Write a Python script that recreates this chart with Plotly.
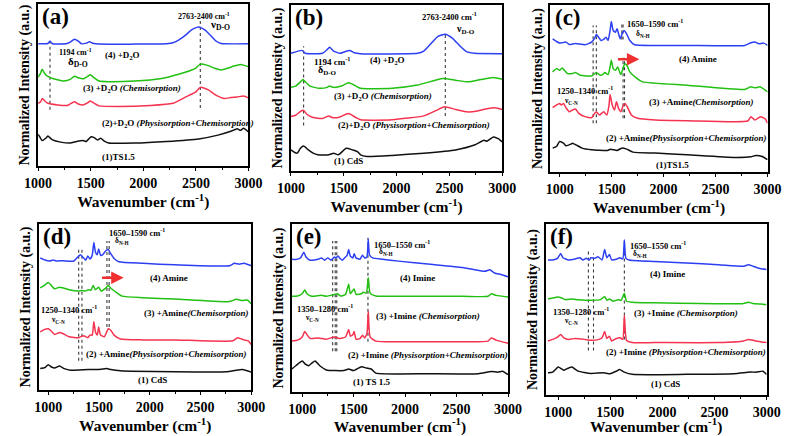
import plotly.graph_objects as go

W, H = 798, 436
FONT = "Liberation Serif"
BLUE, GREEN, RED, BLACK = "#2d3ff2", "#22c012", "#f5334f", "#111111"

# ---------------- Panel (a) : TS1.5 + D2O ----------------
a_xrange = [1000, 3000]
a_yrange = [0, 509]
a4_wn = [1000, 1092, 1113, 1137, 1275, 1305, 1345, 1382, 1412, 1458, 1488, 1519, 1580, 1916, 2221, 2282, 2343, 2404, 2465, 2527, 2588, 2649, 2694, 2740, 3000]
a4_int = [384, 385, 392, 384, 385, 389, 398, 392, 384, 386, 390, 386, 383, 383, 384, 387, 397, 412, 429, 437, 427, 407, 392, 385, 384]
a3_wn = [1000, 1024, 1037, 1055, 1076, 1122, 1183, 1244, 1305, 1345, 1382, 1427, 1473, 1495, 1534, 1580, 1672, 1916, 2160, 2343, 2496, 2542, 2603, 2679, 2740, 2801, 2862, 2923, 2954, 3000]
a3_int = [279, 292, 304, 295, 285, 277, 271, 267, 272, 282, 277, 274, 282, 287, 277, 267, 265, 267, 274, 289, 307, 320, 317, 307, 302, 307, 314, 319, 317, 312]
a2_wn = [1000, 1024, 1040, 1061, 1092, 1183, 1275, 1305, 1345, 1382, 1427, 1473, 1495, 1534, 1580, 1763, 2069, 2282, 2404, 2496, 2542, 2618, 2694, 2771, 2832, 2893, 2954, 3000]
a2_int = [197, 202, 212, 205, 197, 192, 190, 195, 202, 195, 192, 199, 204, 197, 189, 187, 190, 197, 217, 232, 247, 239, 222, 212, 215, 217, 220, 214]
a1_wn = [1000, 1015, 1037, 1076, 1092, 1137, 1214, 1305, 1366, 1427, 1458, 1504, 1534, 1565, 1595, 1626, 1672, 1916, 2221, 2527, 2710, 2832, 2893, 2923, 2954, 3000]
a1_int = [99, 92, 80, 88, 94, 82, 75, 72, 77, 80, 77, 92, 89, 82, 87, 79, 72, 72, 77, 85, 97, 109, 117, 112, 119, 107]
a_dot_wn = [1113, 2542]
a_dot_lo = [177, 182]
a_dot_hi = [402, 457]

# ---------------- Panel (b) : CdS + D2O ----------------
b_xrange = [1000, 3000]
b_yrange = [0, 512]
b4_wn = [1000, 1105, 1135, 1299, 1344, 1365, 1404, 1464, 1509, 1554, 1599, 1659, 2198, 2257, 2317, 2392, 2461, 2527, 2602, 2662, 2737, 3000]
b4_int = [363, 372, 363, 363, 375, 382, 370, 363, 368, 372, 365, 362, 363, 370, 390, 415, 422, 410, 385, 368, 363, 362]
b3_wn = [1000, 1045, 1090, 1114, 1135, 1180, 1269, 1344, 1365, 1404, 1479, 1545, 1599, 1659, 1958, 2198, 2437, 2557, 2677, 2796, 2916, 3000]
b3_int = [258, 262, 275, 282, 275, 262, 255, 258, 262, 258, 262, 272, 265, 255, 255, 265, 285, 280, 275, 282, 288, 283]
b2_wn = [1000, 1045, 1096, 1120, 1150, 1210, 1299, 1359, 1389, 1449, 1545, 1614, 1659, 1958, 2257, 2377, 2452, 2557, 2677, 2766, 2856, 2931, 3000]
b2_int = [168, 172, 185, 187, 175, 165, 162, 170, 165, 165, 177, 165, 158, 158, 170, 187, 198, 190, 182, 185, 192, 195, 190]
b1_wn = [1000, 1036, 1060, 1090, 1120, 1165, 1210, 1254, 1359, 1404, 1449, 1524, 1584, 1629, 1659, 1719, 1958, 2257, 2557, 2737, 2826, 2856, 2916, 2961, 3000]
b1_int = [65, 57, 55, 70, 77, 65, 55, 50, 50, 55, 50, 70, 65, 60, 50, 45, 48, 55, 65, 80, 95, 92, 105, 100, 90]
b_dot_wn = [1120, 2461]
b_dot_lo = [140, 170]
b_dot_hi = [385, 420]

# ---------------- Panel (c) : TS1.5 + Amine ----------------
c_xrange = [912, 3000]
c_yrange = [0, 504]
c4_wn = [933, 969, 1000, 1061, 1092, 1153, 1245, 1307, 1337, 1353, 1374, 1399, 1423, 1445, 1466, 1485, 1497, 1515, 1537, 1552, 1567, 1583, 1604, 1620, 1644, 1675, 1721, 1920, 2227, 2779, 2840, 2877, 2917, 2963, 3000]
c4_int = [402, 394, 389, 392, 385, 388, 384, 392, 404, 415, 407, 397, 400, 407, 397, 427, 454, 427, 422, 432, 417, 402, 420, 427, 417, 397, 384, 382, 382, 382, 390, 392, 387, 389, 382]
c3_wn = [933, 969, 1000, 1025, 1046, 1077, 1123, 1153, 1199, 1307, 1353, 1393, 1414, 1436, 1466, 1485, 1497, 1515, 1537, 1558, 1577, 1589, 1613, 1629, 1650, 1675, 1736, 1797, 2227, 2779, 2840, 2877, 2926, 3000]
c3_int = [302, 312, 307, 314, 307, 297, 297, 300, 292, 290, 300, 292, 294, 300, 294, 317, 337, 312, 307, 317, 302, 294, 317, 327, 320, 302, 284, 272, 262, 249, 257, 254, 257, 242]
c2_wn = [933, 969, 1000, 1015, 1037, 1061, 1092, 1123, 1153, 1184, 1245, 1307, 1337, 1353, 1383, 1423, 1454, 1475, 1485, 1506, 1528, 1546, 1567, 1589, 1613, 1629, 1650, 1690, 1751, 1920, 2227, 2810, 2840, 2877, 2932, 2978, 3000]
c2_int = [194, 202, 207, 202, 207, 194, 182, 187, 190, 177, 167, 164, 177, 182, 172, 182, 172, 202, 234, 202, 187, 212, 192, 182, 202, 207, 197, 172, 162, 157, 155, 154, 167, 157, 167, 160, 147]
c1_wn = [933, 969, 1000, 1037, 1061, 1107, 1123, 1169, 1215, 1307, 1460, 1491, 1552, 1598, 1644, 1705, 1920, 2227, 2687, 2840, 2886, 2948, 3000]
c1_int = [72, 77, 92, 87, 79, 84, 87, 80, 72, 67, 65, 69, 65, 72, 69, 60, 57, 52, 44, 46, 50, 47, 37]
c_dot_wn = [1322, 1353, 1598, 1610, 1610, 1624]
c_dot_lo = [147, 147, 400, 400, 162, 162]
c_dot_hi = [442, 442, 452, 452, 345, 345]

# ---------------- Panel (d) : CdS + Amine ----------------
d_xrange = [910, 3000]
d_yrange = [0, 520]
d4_wn = [921, 968, 1016, 1047, 1079, 1142, 1253, 1284, 1316, 1348, 1370, 1389, 1411, 1433, 1449, 1465, 1483, 1496, 1515, 1537, 1569, 1591, 1616, 1648, 1695, 1932, 2248, 2785, 2833, 2880, 2928, 3000]
d4_int = [414, 407, 404, 407, 404, 405, 404, 414, 424, 414, 407, 420, 410, 422, 462, 432, 424, 442, 422, 424, 437, 440, 427, 412, 402, 397, 392, 389, 397, 394, 397, 389]
d3_wn = [921, 959, 1000, 1032, 1063, 1111, 1142, 1205, 1300, 1332, 1363, 1395, 1420, 1442, 1465, 1496, 1521, 1569, 1591, 1623, 1664, 1727, 1932, 2248, 2785, 2849, 2912, 2959, 3000]
d3_int = [320, 327, 337, 327, 317, 322, 320, 314, 310, 312, 310, 314, 312, 327, 314, 322, 310, 320, 327, 317, 307, 294, 289, 285, 277, 284, 280, 282, 270]
d2_wn = [921, 959, 1000, 1022, 1063, 1111, 1142, 1205, 1300, 1348, 1389, 1411, 1433, 1449, 1465, 1483, 1496, 1515, 1553, 1591, 1616, 1648, 1711, 1932, 2248, 2817, 2864, 2928, 2969, 3000]
d2_int = [182, 189, 192, 187, 174, 180, 177, 167, 164, 170, 164, 172, 172, 214, 182, 172, 197, 172, 167, 192, 187, 172, 160, 157, 157, 154, 164, 157, 154, 142]
d1_wn = [921, 968, 1000, 1032, 1063, 1111, 1158, 1221, 1395, 1483, 1578, 1616, 1711, 2248, 2754, 2849, 2912, 3000]
d1_int = [67, 70, 79, 72, 69, 75, 67, 62, 64, 64, 67, 64, 60, 57, 57, 62, 64, 56]
d_dot_wn = [1300, 1332, 1578, 1600]
d_dot_lo = [92, 92, 197, 197]
d_dot_hi = [447, 447, 467, 467]

# ---------------- Panel (e) : TS 1.5 + Imine ----------------
e_xrange = [900, 3000]
e_yrange = [0, 525]
e4_wn = [900, 938, 984, 1016, 1037, 1078, 1156, 1187, 1218, 1249, 1280, 1312, 1327, 1349, 1368, 1389, 1411, 1436, 1452, 1467, 1492, 1505, 1523, 1561, 1586, 1607, 1629, 1642, 1654, 1685, 1779, 1935, 2246, 2558, 2775, 2822, 2869, 2931, 3000]
e4_int = [415, 414, 419, 437, 422, 412, 415, 419, 412, 419, 412, 422, 419, 425, 417, 412, 419, 427, 445, 425, 419, 432, 419, 415, 427, 419, 422, 477, 429, 419, 415, 409, 399, 389, 377, 382, 372, 367, 360]
e3_wn = [900, 953, 1000, 1025, 1047, 1093, 1187, 1234, 1312, 1343, 1374, 1421, 1452, 1467, 1492, 1505, 1523, 1576, 1592, 1623, 1642, 1660, 1716, 1935, 2558, 2806, 2838, 2885, 3000]
e3_int = [299, 300, 307, 319, 307, 299, 302, 299, 305, 307, 300, 305, 337, 307, 317, 322, 305, 307, 312, 309, 357, 309, 300, 299, 299, 299, 307, 302, 297]
e2_wn = [900, 953, 1000, 1025, 1047, 1078, 1156, 1234, 1312, 1358, 1421, 1452, 1467, 1492, 1505, 1523, 1561, 1586, 1607, 1629, 1642, 1660, 1716, 1935, 2558, 2806, 2838, 2885, 3000]
e2_int = [159, 162, 172, 189, 179, 167, 169, 165, 172, 167, 172, 195, 175, 179, 189, 165, 167, 177, 169, 182, 252, 172, 159, 157, 157, 159, 169, 162, 152]
e1_wn = [900, 938, 1000, 1031, 1062, 1100, 1125, 1171, 1234, 1405, 1452, 1498, 1576, 1623, 1670, 1716, 2246, 2713, 2838, 2900, 2947, 3000]
e1_int = [72, 82, 97, 87, 82, 92, 97, 82, 69, 67, 72, 67, 79, 75, 72, 59, 57, 57, 64, 62, 65, 54]
e_dot_wn = [1296, 1321, 1336, 1639]
e_dot_lo = [127, 127, 127, 157]
e_dot_hi = [472, 472, 472, 482]

# ---------------- Panel (f) : CdS + Imine ----------------
f_xrange = [880, 3000]
f_yrange = [0, 538]
f4_wn = [902, 948, 994, 1024, 1046, 1101, 1162, 1208, 1238, 1269, 1299, 1314, 1351, 1382, 1421, 1446, 1467, 1492, 1513, 1565, 1589, 1620, 1635, 1650, 1681, 1925, 2230, 2536, 2780, 2825, 2871, 2933, 3000]
f4_int = [425, 425, 430, 445, 432, 425, 428, 432, 425, 430, 425, 432, 430, 435, 425, 458, 432, 442, 425, 428, 432, 428, 488, 430, 425, 420, 415, 410, 405, 410, 405, 398, 395]
f3_wn = [902, 948, 994, 1034, 1070, 1131, 1192, 1314, 1406, 1446, 1467, 1492, 1528, 1574, 1605, 1635, 1656, 1711, 1925, 2780, 2825, 2871, 3000]
f3_int = [302, 305, 308, 305, 300, 302, 300, 298, 300, 310, 298, 302, 295, 300, 298, 320, 295, 292, 290, 288, 292, 288, 285]
f2_wn = [902, 948, 994, 1024, 1055, 1101, 1162, 1253, 1314, 1391, 1421, 1446, 1467, 1492, 1513, 1559, 1595, 1620, 1635, 1656, 1711, 1925, 2536, 2780, 2825, 2871, 2948, 3000]
f2_int = [170, 175, 182, 190, 180, 175, 178, 175, 172, 175, 180, 200, 178, 185, 170, 178, 180, 175, 250, 172, 165, 165, 165, 170, 175, 172, 167, 165]
f1_wn = [902, 948, 1000, 1034, 1055, 1101, 1131, 1192, 1314, 1437, 1498, 1559, 1589, 1635, 1711, 2230, 2688, 2841, 2902, 2963, 3000]
f1_int = [70, 72, 88, 82, 78, 85, 88, 75, 68, 70, 67, 75, 80, 72, 65, 65, 67, 72, 72, 75, 65]
f_dot_wn = [1290, 1339, 1635]
f_dot_lo = [140, 140, 175]
f_dot_hi = [455, 445, 490]

# ---------------- text labels (wavenumber, intensity, font size) ----------------
a_labels = [
    ("2763-2400 cm<sup>-1</sup>", 2578, 472, 8),
    ("ν<sub>D-O</sub>", 2725, 442, 11),
    ("1194 cm<sup>-1</sup>", 1357, 357, 8),
    ("δ<sub>D-O</sub>", 1382, 327, 11),
    ("(4) +D<sub>2</sub>O", 1800, 347, 9),
    ("(3) +D<sub>2</sub>O <i>(Chemisorption)</i>", 1891, 244, 9),
    ("(2)+D<sub>2</sub>O <i>(Physisorption+Chemisorption)</i>", 2330, 132, 9),
    ("(1)TS1.5", 1763, 27, 9),
]
b_labels = [
    ("2763-2400 cm<sup>-1</sup>", 2497, 475, 8.5),
    ("ν<sub>D-O</sub>", 2653, 435, 10),
    ("1194 cm<sup>-1</sup>", 1389, 340, 9),
    ("δ<sub>D-O</sub>", 1344, 310, 10),
    ("(4) +D<sub>2</sub>O", 1913, 340, 9),
    ("(3) +D<sub>2</sub>O <i>(Chemisorption)</i>", 1868, 230, 9),
    ("(2)+D<sub>2</sub>O <i>(Physisorption+Chemisorption)</i>", 2168, 140, 9),
    ("(1) CdS", 1545, 30, 9),
]
c_labels = [
    ("1650–1590 cm<sup>-1</sup>", 1920, 449, 8.5),
    ("δ<sub>N-H</sub>", 1797, 417, 7.5),
    ("(4) Amine", 2334, 342, 9),
    ("1250–1340 cm<sup>-1</sup>", 1245, 245, 8.5),
    ("ν<sub>C-N</sub>", 1113, 214, 7.5),
    ("(3) +Amine<i>(Chemisorption)</i>", 2356, 212, 9),
    ("(2) +Amine<i>(Physisorption+Chemisorption)</i>", 2218, 102, 9),
    ("(1)TS1.5", 2089, 20, 9),
]
d_labels = [
    ("1650–1590 cm<sup>-1</sup>", 1875, 492, 8.5),
    ("δ<sub>N-H</sub>", 1727, 467, 7.5),
    ("(4) Amine", 2185, 352, 9),
    ("1250–1340 cm<sup>-1</sup>", 1205, 253, 8.5),
    ("ν<sub>C-N</sub>", 1101, 220, 7.5),
    ("(3) +Amine<i>(Chemisorption)</i>", 2454, 242, 9),
    ("(2) +Amine<i>(Physisorption+Chemisorption)</i>", 2166, 112, 9),
    ("(1) CdS", 2027, 32, 9),
]
e_labels = [
    ("1650–1550 cm<sup>-1</sup>", 1966, 462, 8.5),
    ("δ<sub>N-H</sub>", 1810, 437, 7.5),
    ("(4) Imine", 2121, 357, 9),
    ("1350–1280 cm<sup>-1</sup>", 1218, 260, 8.5),
    ("ν<sub>C-N</sub>", 1100, 230, 7.5),
    ("(3) +Imine <i>(Chemisorption)</i>", 2221, 237, 9),
    ("(2) +Imine <i>(Physisorption+Chemisorption)</i>", 2221, 117, 9),
    ("(1) TS 1.5", 1676, 32, 9),
]
f_labels = [
    ("1650–1550 cm<sup>-1</sup>", 1956, 470, 8.5),
    ("δ<sub>N-H</sub>", 1788, 445, 7.5),
    ("(4) Imine", 2047, 380, 9),
    ("1350–1280 cm<sup>-1</sup>", 1223, 263, 8.5),
    ("ν<sub>C-N</sub>", 1122, 232, 7.5),
    ("(3) +Imine <i>(Chemisorption)</i>", 2230, 258, 9),
    ("(2) +Imine <i>(Physisorption+Chemisorption)</i>", 2230, 135, 9),
    ("(1) CdS", 2032, 35, 9),
]
# red shift arrows: (start wn, end wn, intensity)
c_arrow = (1546, 1767, 340)
d_arrow = (1515, 1743, 352)

# panel placement in pixels: left, right, top, bottom
boxes = {
    "a": (25, 243, 4, 166),
    "b": (287, 506, 5, 171),
    "c": (556, 781, 5, 172),
    "d": (26, 246, 224, 390),
    "e": (288, 512, 224, 392),
    "f": (551, 780, 224, 395),
}

panels = [
    ("a", a_xrange, a_yrange, [(a4_wn, a4_int), (a3_wn, a3_int), (a2_wn, a2_int), (a1_wn, a1_int)], (a_dot_wn, a_dot_lo, a_dot_hi), a_labels, None),
    ("b", b_xrange, b_yrange, [(b4_wn, b4_int), (b3_wn, b3_int), (b2_wn, b2_int), (b1_wn, b1_int)], (b_dot_wn, b_dot_lo, b_dot_hi), b_labels, None),
    ("c", c_xrange, c_yrange, [(c4_wn, c4_int), (c3_wn, c3_int), (c2_wn, c2_int), (c1_wn, c1_int)], (c_dot_wn, c_dot_lo, c_dot_hi), c_labels, c_arrow),
    ("d", d_xrange, d_yrange, [(d4_wn, d4_int), (d3_wn, d3_int), (d2_wn, d2_int), (d1_wn, d1_int)], (d_dot_wn, d_dot_lo, d_dot_hi), d_labels, d_arrow),
    ("e", e_xrange, e_yrange, [(e4_wn, e4_int), (e3_wn, e3_int), (e2_wn, e2_int), (e1_wn, e1_int)], (e_dot_wn, e_dot_lo, e_dot_hi), e_labels, None),
    ("f", f_xrange, f_yrange, [(f4_wn, f4_int), (f3_wn, f3_int), (f2_wn, f2_int), (f1_wn, f1_int)], (f_dot_wn, f_dot_lo, f_dot_hi), f_labels, None),
]
colors = [BLUE, GREEN, RED, BLACK]

fig = go.Figure()
annotations = []
layout = {}

for i, (name, xr, yr, curves, dots, labels, arrow) in enumerate(panels, start=1):
    xa = "x" if i == 1 else f"x{i}"
    ya = "y" if i == 1 else f"y{i}"
    l, r, t, b = boxes[name]
    # dotted marker lines
    for wn, lo, hi in zip(*dots):
        fig.add_trace(go.Scatter(x=[wn, wn], y=[lo, hi], mode="lines", xaxis=xa, yaxis=ya,
                                 line=dict(color="#3a3a3a", width=1.1, dash="dot"),
                                 hoverinfo="skip", showlegend=False))
    for (wn, inten), col in zip(curves, colors):
        fig.add_trace(go.Scatter(x=wn, y=inten, mode="lines", xaxis=xa, yaxis=ya,
                                 line=dict(color=col, width=1.5, shape="spline", smoothing=0.5),
                                 showlegend=False))
    axkey = "xaxis" if i == 1 else f"xaxis{i}"
    aykey = "yaxis" if i == 1 else f"yaxis{i}"
    layout[axkey] = dict(
        domain=[l / W, r / W], anchor=ya, range=xr,
        showline=True, mirror=True, linecolor="black", linewidth=1.5,
        showgrid=False, zeroline=False,
        tickmode="linear", tick0=1000, dtick=500,
        ticks="outside", ticklen=3, tickwidth=1.2, tickcolor="black",
        minor=dict(tickmode="linear", tick0=1250, dtick=500, ticks="outside", ticklen=2, tickcolor="black"),
        tickfont=dict(family=FONT, size=14, color="black", weight="bold"),
        title=dict(text="Wavenumber (cm<sup>-1</sup>)", standoff=2,
                   font=dict(family=FONT, size=15.5, color="black", weight="bold")),
    )
    layout[aykey] = dict(
        domain=[1 - b / H, 1 - t / H], anchor=xa, range=yr,
        showline=True, mirror=True, linecolor="black", linewidth=1.5,
        showgrid=False, zeroline=False, showticklabels=False, ticks="",
        title=dict(text="Normalized Intensity (a.u.)", standoff=3,
                   font=dict(family=FONT, size=14, color="black", weight="bold")),
    )
    annotations.append(dict(text=f"({name})", xref=f"{xa} domain", yref=f"{ya} domain",
                            x=0.01, y=1.01, xanchor="left", yanchor="top", showarrow=False,
                            font=dict(family=FONT, size=23, color="black", weight="bold")))
    for txt, x, y, sz in labels:
        annotations.append(dict(text=txt, x=x, y=y, xref=xa, yref=ya, showarrow=False,
                                xanchor="center", yanchor="middle",
                                font=dict(family=FONT, size=sz, color="black", weight="bold")))
    if arrow is not None:
        x0, x1, yy = arrow
        annotations.append(dict(text="", x=x1, y=yy, ax=x0, ay=yy, xref=xa, yref=ya,
                                axref=xa, ayref=ya, showarrow=True, arrowhead=2,
                                arrowsize=1, arrowwidth=2.5, arrowcolor="#f03030"))

fig.update_layout(
    width=W, height=H, margin=dict(l=0, r=0, t=0, b=0),
    paper_bgcolor="white", plot_bgcolor="white",
    annotations=annotations, **layout,
)
fig.write_html("out.html", config={"displayModeBar": False},
               post_script="document.body.style.margin='0';document.body.style.overflow='hidden';")
